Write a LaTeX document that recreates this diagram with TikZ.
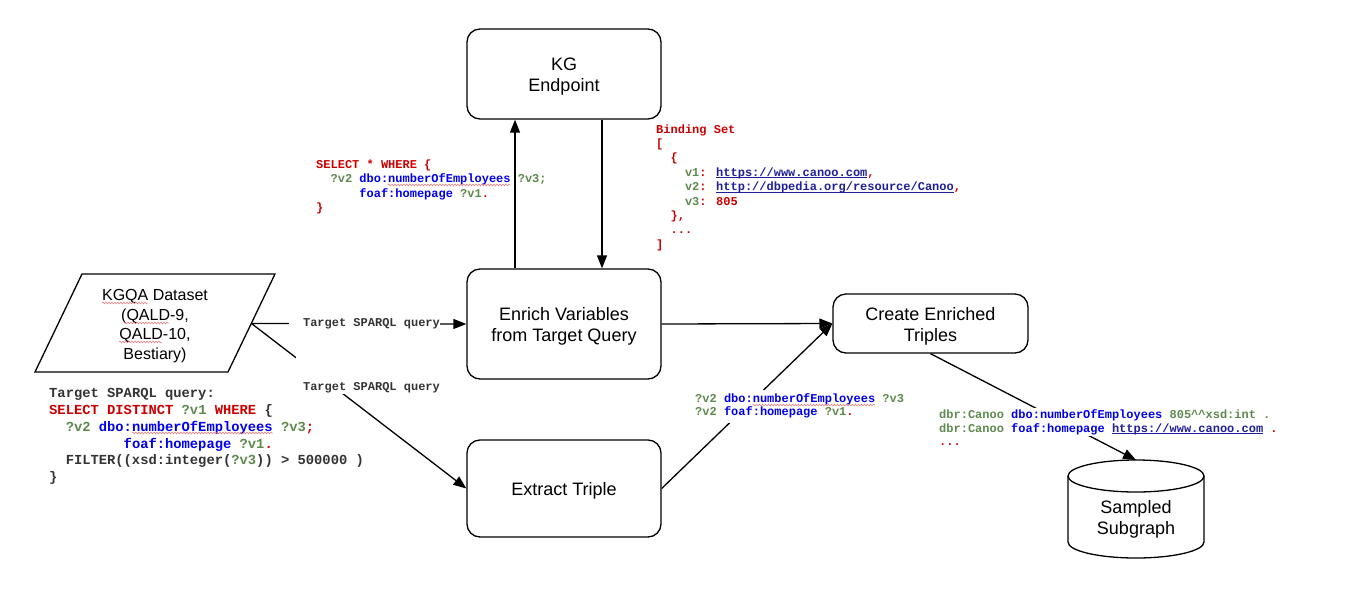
\documentclass[tikz,border=0pt]{standalone}
\usepackage{fontspec}
\setmainfont{Liberation Sans}
\newfontfamily\codefont{Liberation Mono}
\usetikzlibrary{arrows.meta,decorations.pathmorphing}
\definecolor{cred}{HTML}{CC0000}
\definecolor{cgreen}{HTML}{5E8A4E}
\definecolor{cblue}{HTML}{0000EE}
\definecolor{clink}{HTML}{1F1F99}
\definecolor{cgray}{HTML}{333333}
\definecolor{csquig}{HTML}{E57373}
\newcommand\redt[1]{\textcolor{cred}{#1}}
\newcommand\grnt[1]{\textcolor{cgreen}{#1}}
\newcommand\blut[1]{\textcolor{cblue}{#1}}
\newcommand\gryt[1]{\textcolor{cgray}{#1}}
\newcommand\lnk[1]{\textcolor{clink}{\setbox0=\hbox{#1}\rlap{\rule[-1.8pt]{\wd0}{0.8pt}}#1}}
\newcommand\topst{\rule{0pt}{18.7pt}}
\newcommand\botst{\rule[-4pt]{0pt}{4pt}}
\begin{document}
\begin{tikzpicture}[x=1pt,y=-1pt,
  box/.style={draw, line width=1.3, rounded corners=13, align=center,
    font=\fontsize{18}{21}\selectfont, inner sep=0},
  conn/.style={line width=1.3, -{Triangle[length=13pt,width=10pt]}},
  outline/.style={draw, line width=1.3, fill=white},
  codetxt/.style={font=\codefont\bfseries\fontsize{12}{#1}\selectfont, align=left,
    anchor=north west, inner sep=0},
  lbl/.style={font=\codefont\bfseries\fontsize{12}{14}\selectfont, text=cgray},
  squig/.style={draw=csquig, line width=0.5, decorate,
    decoration={snake, segment length=3pt, amplitude=0.9pt}}
]
\useasboundingbox (0,0) rectangle (1345,590);
\fill[white] (0,0) rectangle (1345,590);

% ---- boxes
\node[box, minimum width=194, minimum height=90] (kg) at (564,74) {\topst KG\\Endpoint\botst};
\node[box, minimum width=194, minimum height=110] (enrich) at (564,324) {\topst Enrich Variables\\from Target Query\botst};
\node[box, minimum width=194, minimum height=97] (extract) at (564,488.5) {\rule{0pt}{16.8pt}Extract Triple};
\node[box, minimum width=195, minimum height=59] (create) at (930.5,323.5) {\topst Create Enriched\\Triples\botst};

% ---- dataset parallelogram
\draw[outline] (82,274) -- (275,274) -- (228,372) -- (35,372) -- cycle;
\coordinate (kgqaR) at (251.5,323.5);
\node[align=center, font=\fontsize{16}{19.5}\selectfont, inner sep=0] (kgqa) at (155,325.9)
  {KGQA Dataset\\(QALD-9,\\QALD-10,\\Bestiary)};

% ---- cylinder
\draw[outline] (1068,476) -- (1068,542)
  .. controls (1068,550.84) and (1098.44,558) .. (1136,558)
  .. controls (1173.56,558) and (1204,550.84) .. (1204,542) -- (1204,476);
\draw[outline] (1136,476) ellipse [x radius=68, y radius=16];
\coordinate (cylTop) at (1136,460);
\node[align=center, font=\fontsize{18}{21}\selectfont, inner sep=0] (sampled) at (1136,517.1) {\topst Sampled\\Subgraph\botst};

% ---- connectors
\draw[conn] (kgqaR) -- (enrich.west);
\draw[conn] (kgqaR) -- (extract.west);
\draw[conn] ([xshift=-49]enrich.north) -- ([xshift=-49]kg.south);
\draw[conn] ([xshift=38]kg.south) -- ([xshift=38]enrich.north);
\draw[conn] (enrich.east) -- (create.west);
\draw[conn] (extract.east) -- (create.west);
\draw[conn] (create.south) -- (cylTop);

% ---- connector labels
\node[lbl, fill=white, inner sep=0, anchor=base] (lab1) at (364.5,326) {\hspace*{14pt}Target SPARQL query};
\node[lbl, fill=white, inner xsep=7, inner ysep=0, text height=33, text depth=4, anchor=base] (lab2) at (371.5,390) {Target SPARQL query};

% ---- code blocks
\node[codetxt=14.5] (selq) at (316,157.85) {\strut\redt{SELECT * WHERE \{}\\
\strut\hspace*{1.2em}\grnt{?v2} \blut{dbo:numberOfEmployees} \grnt{?v3;}\\
\strut\hspace*{3.6em}\blut{foaf:homepage} \grnt{?v1}\redt{.}\\
\strut\redt{\}}};

\node[codetxt=14.4] (bind) at (656,122.9) {\strut\redt{Binding Set}\\
\strut\redt{[}\\
\strut\hspace*{1.2em}\redt{\{}\\
\strut\hspace*{2.4em}\grnt{v1}\redt{:} \lnk{https://www.canoo.com}\redt{,}\\
\strut\hspace*{2.4em}\grnt{v2}\redt{:} \lnk{http://dbpedia.org/resource/Canoo}\redt{,}\\
\strut\hspace*{2.4em}\grnt{v3}\redt{: 805}\\
\strut\hspace*{1.2em}\redt{\},}\\
\strut\hspace*{1.2em}\redt{...}\\
\strut\redt{]}};

\node[codetxt=16.8, font=\codefont\bfseries\fontsize{13.8}{16.8}\selectfont] (target) at (49,385.7) {\strut\gryt{Target SPARQL query:}\\
\strut\redt{SELECT DISTINCT} \grnt{?v1} \redt{WHERE} \gryt{\{}\\
\strut\hspace*{1.2em}\grnt{?v2} \blut{dbo:numberOfEmployees} \grnt{?v3}\redt{;}\\
\strut\hspace*{5.4em}\blut{foaf:homepage} \grnt{?v1}\redt{.}\\
\strut\hspace*{1.2em}\gryt{FILTER((xsd:integer(}\grnt{?v3}\gryt{)) > 500000 )}\\
\strut\gryt{\}}};

\node[codetxt=13.3, fill=white, inner sep=3] (triples) at (692,389.7) {\strut\grnt{?v2} \blut{dbo:numberOfEmployees} \grnt{?v3}\\
\strut\grnt{?v2} \blut{foaf:homepage} \grnt{?v1}\redt{.}};

\node[codetxt=14, fill=white] (enriched) at (939,408.2) {\strut\grnt{dbr:Canoo} \blut{dbo:numberOfEmployees} \grnt{805\textasciicircum\textasciicircum xsd:int .}\\
\strut\grnt{dbr:Canoo} \blut{foaf:homepage} \lnk{https://www.canoo.com} \redt{.}};
\node[codetxt=14, anchor=base west] (more) at (939,445) {\redt{...}};

% ---- spell-check squiggles
\draw[squig] (102,303) -- (148,303);
\draw[squig] (124,323) -- (169,323);
\draw[squig] (119,342) -- (162,342);
\draw[squig] (388,185) -- (510,185);
\draw[squig] (132,433) -- (273,433);
\draw[squig] (752.6,405) -- (875,405);
\end{tikzpicture}
\end{document}
